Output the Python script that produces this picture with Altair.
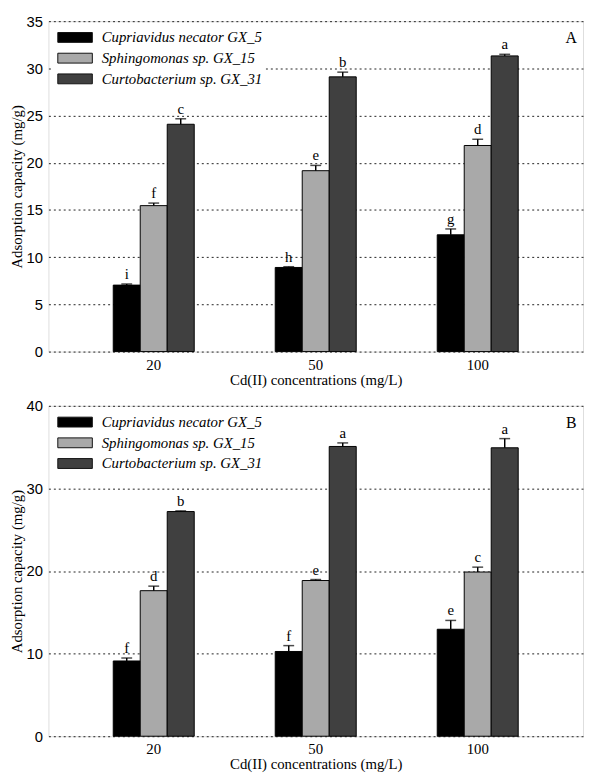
import altair as alt
import pandas as pd

SERIF = "Liberation Serif"
SANS = "Liberation Sans"

concentrations = ["20", "50", "100"]
strains = ["Cupriavidus necator GX_5", "Sphingomonas sp. GX_15", "Curtobacterium sp. GX_31"]
colors = ["#000000", "#a9a9a9", "#404040"]

# Panel A
a_cupriavidus = [7.04, 8.91, 12.37]
a_cupriavidus_err = [0.12, 0.08, 0.62]
a_sphingomonas = [15.46, 19.16, 21.83]
a_sphingomonas_err = [0.27, 0.56, 0.66]
a_curtobacterium = [24.08, 29.10, 31.32]
a_curtobacterium_err = [0.58, 0.50, 0.17]
a_letters = [["i", "h", "g"], ["f", "e", "d"], ["c", "b", "a"]]

# Panel B
b_cupriavidus = [9.11, 10.26, 12.95]
b_cupriavidus_err = [0.36, 0.71, 1.07]
b_sphingomonas = [17.62, 18.85, 19.88]
b_sphingomonas_err = [0.55, 0.12, 0.59]
b_curtobacterium = [27.20, 35.08, 34.92]
b_curtobacterium_err = [0.08, 0.43, 1.11]
b_letters = [["f", "f", "e"], ["d", "e", "c"], ["b", "a", "a"]]

W = 542
H = 335


def make_df(values, errors, letters):
    rows = []
    for s, vals, errs, lets in zip(strains, values, errors, letters):
        for c, v, e, l in zip(concentrations, vals, errs, lets):
            rows.append(dict(conc=c, strain=s, value=v, err=e, top=v + e, letter=l))
    return pd.DataFrame(rows)


df_a = make_df([a_cupriavidus, a_sphingomonas, a_curtobacterium],
               [a_cupriavidus_err, a_sphingomonas_err, a_curtobacterium_err], a_letters)
df_b = make_df([b_cupriavidus, b_sphingomonas, b_curtobacterium],
               [b_cupriavidus_err, b_sphingomonas_err, b_curtobacterium_err], b_letters)

YTITLE = "Adsorption capacity (mg/g)"


def panel(df, ymax, ystep, tag):
    base = alt.Chart(df)
    x = alt.X("conc:N", sort=concentrations, title="Cd(II) concentrations (mg/L)",
              scale=alt.Scale(paddingInner=0.5, paddingOuter=0.4),
              axis=alt.Axis(labelAngle=0, ticks=False, domain=False, grid=False,
                            labelFont=SERIF, labelFontSize=15, labelColor="black",
                            labelPadding=6, titleFont=SERIF, titleFontSize=15,
                            titleFontWeight="normal", titleColor="black", titlePadding=0))
    xo = alt.XOffset("strain:N", sort=strains,
                     scale=alt.Scale(domain=strains, paddingInner=0, paddingOuter=0))
    yaxis = alt.Axis(values=list(range(0, ymax + 1, ystep)), grid=True, gridDash=[2, 3],
                     gridColor="#222222", gridWidth=1, ticks=False, domain=False,
                     labelFont=SANS, labelFontSize=15, labelColor="black", labelPadding=6,
                     titleFont=SERIF, titleFontSize=15, titleFontWeight="normal",
                     titleColor="black", titlePadding=2)
    yscale = alt.Scale(domain=[0, ymax], nice=False)
    fill = alt.Fill("strain:N", sort=strains, scale=alt.Scale(domain=strains, range=colors),
                    legend=alt.Legend(title=None, orient="none", legendX=4, legendY=6,
                                      symbolType="M-1,-1H6V1H-1Z", symbolSize=100,
                                      symbolStrokeColor="#111111", symbolStrokeWidth=1,
                                      labelFont=SERIF, labelFontSize=15, labelFontStyle="italic",
                                      labelColor="black", labelLimit=0, labelOffset=32,
                                      rowPadding=5, fillColor="white", padding=3))
    bars = base.mark_bar(stroke="black", strokeWidth=1).encode(
        x=x, xOffset=xo, y=alt.Y("value:Q", scale=yscale, axis=yaxis, title=YTITLE), fill=fill)
    rules = base.mark_rule(color="black", strokeWidth=1.5).encode(
        x=x, xOffset=xo, y=alt.Y("value:Q", title=YTITLE), y2="top:Q")
    caps = base.mark_tick(color="black", thickness=1.5, size=11).encode(
        x=x, xOffset=xo, y=alt.Y("top:Q", title=YTITLE))
    letters = base.mark_text(font=SERIF, fontSize=15, baseline="bottom", dy=-2, color="black").encode(
        x=x, xOffset=xo, y=alt.Y("top:Q", title=YTITLE), text="letter:N")
    label = alt.Chart(pd.DataFrame({"t": [tag]})).mark_text(
        font=SERIF, fontSize=16, color="black", baseline="middle", align="center").encode(
        x=alt.value(W - 12), y=alt.value(17), text="t:N")
    return alt.layer(bars, rules, caps, letters, label).properties(width=W, height=H)


chart = alt.vconcat(
    panel(df_a, 35, 5, "A"), panel(df_b, 40, 10, "B"), spacing=10,
    padding={"left": 0, "top": 0, "right": 0, "bottom": 0},
).resolve_scale(y="independent", fill="independent").resolve_legend(
    fill="independent").configure_view(stroke="black", strokeWidth=1).configure(background="white")

chart.save("out.html", embed_options={"renderer": "svg", "actions": False})
